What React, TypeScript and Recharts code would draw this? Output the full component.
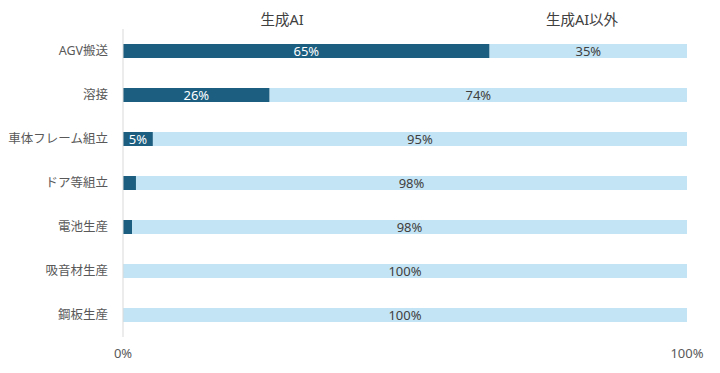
import React from "react";
import { BarChart, Bar, XAxis, YAxis, LabelList } from "recharts";

const categories = ["AGV搬送", "溶接", "車体フレーム組立", "ドア等組立", "電池生産", "吸音材生産", "鋼板生産"];
const genAI = [65, 26, 5.3, 2.3, 1.6, 0, 0];
const otherAI = [35, 74, 94.7, 97.7, 98.4, 100, 100];
const genAILabels = ["65%", "26%", "5%", "", "", "", ""];
const otherLabels = ["35%", "74%", "95%", "98%", "98%", "100%", "100%"];
const xTicks = [0, 100];
const seriesNames = ["生成AI", "生成AI以外"];

const data = categories.map((c, i) => ({
  name: c,
  gen: genAI[i],
  other: otherAI[i],
  genLabel: genAILabels[i],
  otherLabel: otherLabels[i],
}));

const FONT = "'Noto Sans', 'Noto Sans CJK JP', sans-serif";

export default function App() {
  return (
    <div style={{ position: "absolute", left: 0, top: 0, width: 720, height: 373, background: "#fff", fontFamily: FONT }}>
      <div style={{ position: "absolute", left: 232, width: 100, top: 8, textAlign: "center", fontSize: 14.5, color: "#404040" }}>
        {seriesNames[0]}
      </div>
      <div style={{ position: "absolute", left: 532, width: 100, top: 8, textAlign: "center", fontSize: 14.5, color: "#404040" }}>
        {seriesNames[1]}
      </div>
      <BarChart
        width={720}
        height={373}
        data={data}
        layout="vertical"
        margin={{ top: 29, right: 33, bottom: 0, left: 0 }}
        barSize={14}
      >
        <XAxis
          type="number"
          domain={[0, 100]}
          ticks={xTicks}
          tickFormatter={(v) => `${v}%`}
          axisLine={false}
          tickLine={false}
          tickMargin={6}
          height={36}
          tick={{ fontSize: 13, fill: "#595959", fontFamily: FONT }}
        />
        <YAxis
          type="category"
          dataKey="name"
          width={123}
          axisLine={{ stroke: "#d9d9d9", strokeWidth: 1 }}
          tickLine={false}
          tickMargin={9}
          tick={{ fontSize: 12.5, fill: "#595959", fontFamily: FONT }}
        />
        <Bar dataKey="gen" stackId="a" fill="#1B5E7F" isAnimationActive={false}>
          <LabelList dataKey="genLabel" position="center" fill="#ffffff" fontSize={13} fontFamily={FONT} />
        </Bar>
        <Bar dataKey="other" stackId="a" fill="#C3E4F4" isAnimationActive={false}>
          <LabelList dataKey="otherLabel" position="center" fill="#404040" fontSize={13} fontFamily={FONT} />
        </Bar>
      </BarChart>
    </div>
  );
}
